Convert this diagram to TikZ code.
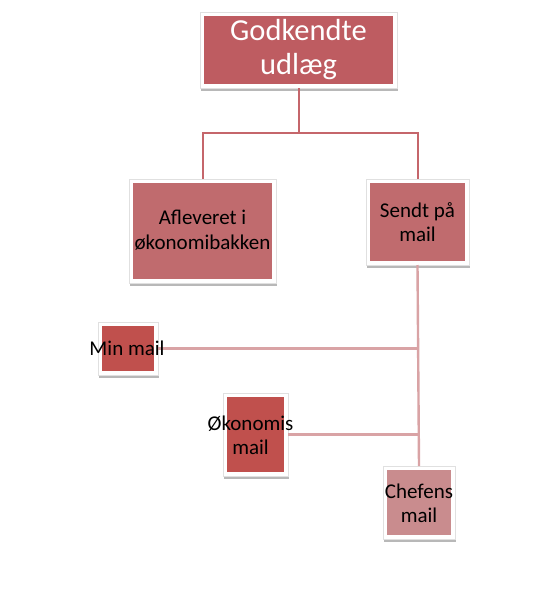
\documentclass[tikz,border=0pt]{standalone}
\usepackage{fontspec}
\setmainfont{Carlito}
\usetikzlibrary{shadows}
\definecolor{cTop}{HTML}{BE5C61}
\definecolor{cMid}{HTML}{C06B6E}
\definecolor{cDark}{HTML}{C0504D}
\definecolor{cLight}{HTML}{C98C8E}
\definecolor{lineUp}{HTML}{C5666B}
\definecolor{lineLow}{HTML}{D9A3A5}
\tikzset{
  box/.style={rectangle, fill=white, draw=black!12, line width=0.4pt,
    drop shadow={shadow xshift=1.2pt, shadow yshift=-2.5pt, opacity=0.28, fill=black},
    inner sep=0pt, outer sep=0pt,
    path picture={\fill[#1] ([shift={(4pt,4pt)}]path picture bounding box.south west)
      rectangle ([shift={(-4pt,-4pt)}]path picture bounding box.north east);}},
  txt/.style={inner sep=0pt, align=center, font=\fontsize{21}{24.5}\selectfont},
  upline/.style={draw=lineUp, line width=2pt},
  lowline/.style={draw=lineLow, line width=2.4pt}
}
\begin{document}
\begin{tikzpicture}[x=1pt,y=-1pt]
\useasboundingbox (0,0) rectangle (540,600);
% boxes
\node[box=cTop, minimum width=197pt, minimum height=76pt] (top) at (298.5,50) {};
\node[box=cMid, minimum width=147pt, minimum height=104pt] (afl) at (202.5,231) {};
\node[box=cMid, minimum width=103pt, minimum height=86pt] (sendt) at (417.5,222) {};
\node[box=cDark, minimum width=60pt, minimum height=53pt] (minmail) at (128,348.5) {};
\node[box=cDark, minimum width=65pt, minimum height=83pt] (oko) at (255.5,434.5) {};
\node[box=cLight, minimum width=72pt, minimum height=73pt] (chef) at (419,502.5) {};
% connectors
\coordinate (j) at (298,133);
\draw[upline] (top.south) -- (top.south |- j);
\draw[upline] (afl.north) |- (sendt.north |- j) -- (sendt.north);
\draw[lowline] (sendt.south) -- (chef.north);
\draw[lowline] (minmail.east) -- (minmail.east -| sendt.south);
\draw[lowline] (oko.east) -- (oko.east -| sendt.south);
% texts
\node[txt, text=white, font=\fontsize{30.5}{34}\selectfont] (topT) at (top) {Godkendte\\udlæg};
\node[txt] (aflT) at ([yshift=1pt]afl) {Afleveret i\\økonomibakken};
\node[txt] (sendtT) at (sendt) {Sendt på\\mail};
\node[txt] (minmailT) at ([xshift=-1pt]minmail) {Min mail};
\node[txt] (okoT) at ([xshift=-5pt,yshift=-1pt]oko) {Økonomis\\mail};
\node[txt] (chefT) at ([yshift=-1pt]chef) {Chefens\\mail};
\end{tikzpicture}
\end{document}
